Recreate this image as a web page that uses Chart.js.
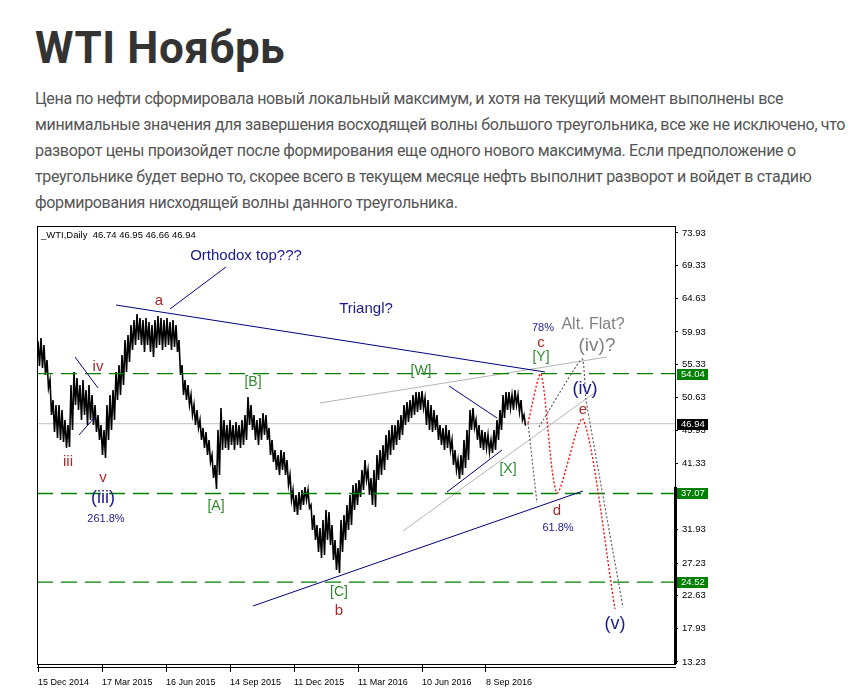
<!DOCTYPE html>
<html>
<head>
<meta charset="utf-8">
<script src="https://cdn.jsdelivr.net/npm/chart.js@4.4.0/dist/chart.umd.min.js"></script>
<style>
  body { margin: 0; background: #fff; width: 866px; height: 695px; overflow: hidden; position: relative; }
  h1 { position: absolute; left: 35px; top: 26px; margin: 0; font: 700 44px/44px Roboto, sans-serif; color: #333; letter-spacing: 0.6px; }
  .txt { position: absolute; left: 35px; top: 86px; font: 400 16px/26px Roboto, sans-serif; color: #555; white-space: nowrap; letter-spacing: -0.33px; }
  #wrap { position: absolute; left: 36px; top: 225px; width: 700px; height: 470px; }
</style>
</head>
<body>
<h1>WTI Ноябрь</h1>
<div class="txt">
  <div>Цена по нефти сформировала новый локальный максимум, и хотя на текущий момент выполнены все</div>
  <div>минимальные значения для завершения восходящей волны большого треугольника, все же не исключено, что</div>
  <div>разворот цены произойдет после формирования еще одного нового максимума. Если предположение о</div>
  <div>треугольнике будет верно то, скорее всего в текущем месяце нефть выполнит разворот и войдет в стадию</div>
  <div>формирования нисходящей волны данного треугольника.</div>
</div>
<div id="wrap"><canvas id="wti" width="700" height="470"></canvas></div>
<script>
// WTI daily, one sample every 3 trading days (high / low)
const sampleStep = 3;
const priceHigh = [
  58.65, 59.07, 58.08, 55.96, 53.13, 50.30, 49.59, 49.59, 48.88, 47.47,
  46.76, 52.42, 54.26, 53.41, 52.42, 53.13, 51.71, 52.42, 51.01, 49.59,
  48.18, 46.76, 46.05, 49.59, 51.01, 51.71, 54.26, 55.25, 56.67, 58.79,
  59.50, 60.91, 61.62, 62.47, 61.90, 61.62, 61.90, 61.34, 60.91, 61.62,
  62.19, 61.90, 61.62, 61.90, 61.34, 61.62, 60.91, 58.79, 55.25, 53.13,
  52.42, 51.01, 49.59, 48.88, 47.47, 46.34, 45.77, 44.64, 42.52, 41.10,
  46.05, 49.17, 47.47, 46.76, 47.47, 46.76, 47.19, 46.76, 47.47, 48.18,
  50.72, 49.59, 48.18, 47.47, 47.75, 48.46, 48.18, 46.34, 44.64, 43.22,
  42.52, 43.22, 42.94, 41.81, 39.69, 37.56, 36.86, 37.28, 37.56, 37.99,
  37.56, 35.44, 34.03, 32.61, 32.19, 33.32, 34.73, 34.45, 32.61, 30.49,
  29.36, 33.32, 34.03, 35.44, 36.86, 38.27, 38.56, 38.98, 40.39, 41.81,
  40.39, 39.26, 40.39, 42.52, 43.22, 43.93, 45.35, 46.05, 46.76, 46.76,
  47.47, 48.18, 49.59, 50.02, 50.30, 51.01, 51.43, 51.43, 51.57, 50.58,
  50.30, 49.59, 48.88, 48.18, 46.76, 46.34, 46.76, 46.05, 44.64, 43.22,
  41.81, 42.52, 44.64, 46.05, 48.88, 49.17, 47.47, 46.76, 46.05, 45.77,
  45.35, 44.64, 46.05, 47.47, 48.88, 51.01, 51.43, 51.43, 51.01, 51.71,
  51.01, 50.30, 48.18
];
const priceLow = [
  55.11, 54.83, 53.84, 52.00, 48.18, 45.77, 44.92, 44.64, 44.36, 43.51,
  43.65, 46.05, 49.59, 48.88, 47.47, 48.18, 46.76, 47.47, 46.76, 45.77,
  44.64, 42.52, 42.09, 44.64, 46.05, 47.47, 50.30, 51.01, 52.42, 54.26,
  55.68, 57.37, 58.08, 58.79, 58.08, 57.09, 58.08, 57.09, 56.38, 57.66,
  58.08, 57.37, 57.80, 58.08, 57.37, 57.80, 57.09, 53.84, 51.01, 50.30,
  49.59, 48.18, 46.76, 46.34, 44.64, 43.51, 42.52, 41.53, 39.26, 37.71,
  39.69, 43.22, 43.51, 43.22, 43.93, 43.22, 43.93, 43.51, 43.93, 44.64,
  46.76, 46.05, 44.64, 43.93, 44.64, 45.35, 44.64, 42.52, 41.53, 40.39,
  39.69, 40.39, 39.69, 38.27, 36.15, 34.45, 34.03, 34.73, 35.44, 36.15,
  35.02, 31.90, 30.49, 28.79, 27.94, 28.37, 30.49, 29.78, 27.66, 26.24,
  25.82, 28.79, 30.49, 31.90, 32.61, 34.73, 35.44, 36.57, 37.56, 38.98,
  36.86, 35.44, 35.16, 38.98, 39.69, 40.39, 41.81, 42.52, 43.22, 43.93,
  44.64, 45.35, 46.76, 47.19, 47.75, 48.18, 48.60, 48.88, 49.17, 46.76,
  46.05, 45.77, 46.05, 44.64, 43.93, 43.22, 43.51, 43.22, 41.10, 40.39,
  39.12, 39.69, 40.68, 41.81, 46.05, 46.34, 44.64, 43.51, 43.22, 43.51,
  42.94, 42.80, 43.22, 44.64, 46.05, 47.75, 48.88, 49.17, 48.88, 49.59,
  48.60, 47.47, 46.66
];

const yTicks = [73.93, 69.33, 64.63, 59.93, 55.33, 50.63, 45.93, 41.33, 36.63, 31.93, 27.23, 22.63, 17.93, 13.23];
const dateTickDays = [0, 64, 128, 192, 256, 320, 384, 448];
const dateTickLabels = ['15 Dec 2014', '17 Mar 2015', '16 Jun 2015', '14 Sep 2015', '11 Dec 2015', '11 Mar 2016', '10 Jun 2016', '8 Sep 2016'];
const headerText = '_WTI,Daily  46.74 46.95 46.66 46.94';

const levels = [54.04, 37.07, 24.52];
const lastPrice = 46.94;

// drawn lines, [trading day, price]
const navyLines = [
  [[78, 63.74], [507, 54.26]],   // triangle top
  [[132, 63.18], [188, 69.12]],  // pointer to "Orthodox top???"
  [[215, 21.15], [545, 37.42]],  // triangle bottom
  [[37, 56.38], [60, 52.00]],
  [[41, 45.35], [57, 47.89]],
  [[411, 52.28], [459, 47.75]],
  [[409, 37.28], [464, 43.22]]
];
const silverLines = [
  [[282, 49.88], [569, 56.38]],
  [[365, 31.76], [559, 51.57]]
];
const redPath = [[490, 47.05], [503, 53.98], [519, 37.14], [545, 47.61], [577, 20.73]];
const greyPathA = [[490, 47.05], [499, 35.72]];
const greyPathB = [[501, 46.48], [544, 56.10], [548, 50.30], [585, 20.97]];

// wave labels: text, trading day, price, kind
const waveLabels = [
  ['Orthodox top???', 208, 70.68, 'note'],
  ['Triangl?', 328, 63.18, 'note'],
  ['a', 121, 64.31, 'wave'],
  ['iv', 60, 54.97, 'wave'],
  ['iii', 30, 41.53, 'wave'],
  ['v', 65, 39.26, 'wave'],
  ['(iii)', 65, 36.43, 'big'],
  ['261.8%', 68, 33.46, 'pct'],
  ['[A]', 178, 35.30, 'corr'],
  ['[B]', 215, 52.85, 'corr'],
  ['[C]', 301, 23.13, 'corr'],
  ['b', 301, 20.44, 'wave'],
  ['[W]', 383, 54.40, 'corr'],
  ['[X]', 470, 40.54, 'corr'],
  ['78%', 505, 60.49, 'pct'],
  ['c', 503, 58.37, 'wave'],
  ['[Y]', 503, 56.38, 'corr'],
  ['Alt. Flat?', 555, 60.91, 'alt'],
  ['(iv)?', 559, 57.94, 'altBig'],
  ['(iv)', 547, 51.86, 'big'],
  ['e', 545, 48.88, 'wave'],
  ['d', 519, 34.59, 'wave'],
  ['61.8%', 520, 32.19, 'pct'],
  ['(v)', 577, 18.60, 'big']
];

const FONT = '"Liberation Sans", Arial, sans-serif';
const labelStyle = {
  note:   { color: '#1a1a8e', size: 15 },
  wave:   { color: '#a52a2a', size: 15 },
  big:    { color: '#1a1a8e', size: 18 },
  pct:    { color: '#1a1a8e', size: 11 },
  corr:   { color: '#2f8a2f', size: 14 },
  alt:    { color: '#808080', size: 16 },
  altBig: { color: '#808080', size: 19 }
};

function seg(points, color, extra) {
  return Object.assign({
    type: 'line',
    data: points.map(p => ({ x: p[0], y: p[1] })),
    borderColor: color, borderWidth: 1, pointRadius: 0, fill: false, tension: 0
  }, extra || {});
}

// each sample drawn as high -> low stroke, so the band looks like dense daily bars
const zigzag = [];
priceHigh.forEach((h, i) => {
  const d = i * sampleStep;
  zigzag.push([d, h], [d + 1.5, priceLow[i]]);
});

const datasets = [];
datasets.push(seg(zigzag, '#000', { borderWidth: 1.6, order: 5 }));
datasets.push(seg([[-1, lastPrice], [637, lastPrice]], '#c0c0c0', { order: 10 }));
levels.forEach(v => datasets.push(seg([[-1, v], [637, v]], '#008000', { borderDash: [16, 8], borderWidth: 1.3, order: 3 })));
silverLines.forEach(l => datasets.push(seg(l, '#b4b4b4', { order: 4 })));
navyLines.forEach(l => datasets.push(seg(l, '#000080', { order: 2 })));
datasets.push(seg(redPath, '#ff0000', { borderDash: [2, 2], borderWidth: 1.3, tension: 0.25, order: 1 }));
datasets.push(seg(greyPathA, '#606060', { borderDash: [2, 2], borderWidth: 1.2, order: 1 }));
datasets.push(seg(greyPathB, '#606060', { borderDash: [2, 2], borderWidth: 1.2, tension: 0.15, order: 1 }));

const overlay = {
  id: 'overlay',
  afterDatasetsDraw(chart) {
    const { ctx, chartArea: a, scales: { x, y } } = chart;
    ctx.save();
    ctx.textAlign = 'center';
    ctx.textBaseline = 'middle';
    waveLabels.forEach(([t, d, p, k]) => {
      const s = labelStyle[k];
      ctx.font = s.size + 'px ' + FONT;
      ctx.fillStyle = s.color;
      ctx.fillText(t, x.getPixelForValue(d), y.getPixelForValue(p));
    });
    ctx.textAlign = 'left';
    ctx.font = '9.5px ' + FONT;
    ctx.fillStyle = '#000';
    ctx.fillText(headerText, a.left + 4, a.top + 9);
    ctx.restore();
  },
  afterDraw(chart) {
    const { ctx, chartArea: a, scales: { y } } = chart;
    ctx.save();
    // frame
    ctx.strokeStyle = '#000';
    ctx.lineWidth = 1;
    ctx.strokeRect(a.left + 0.5, a.top + 0.5, a.right - a.left, a.bottom - a.top);
    ctx.beginPath();
    ctx.moveTo(a.left, a.bottom + 3.5);
    ctx.lineTo(a.right + 1, a.bottom + 3.5);
    ctx.stroke();
    ctx.fillStyle = '#000';
    const thickTop = y.getPixelForValue(38.0);
    ctx.fillRect(a.right - 1, thickTop, 3, a.bottom - thickTop);
    // price labels on the axis
    ctx.font = '9.5px ' + FONT;
    ctx.textAlign = 'left';
    ctx.textBaseline = 'middle';
    const tag = (v, bg) => {
      const py = Math.round(y.getPixelForValue(v));
      ctx.fillStyle = bg;
      ctx.fillRect(a.right + 2, py - 5, 31, 11);
      ctx.fillStyle = '#fff';
      ctx.fillText(v.toFixed(2), a.right + 6, py + 0.5);
    };
    levels.forEach(v => tag(v, '#008000'));
    tag(lastPrice, '#000');
    ctx.restore();
  }
};

new Chart(document.getElementById('wti'), {
  type: 'line',
  data: { datasets },
  options: {
    responsive: false,
    animation: false,
    layout: { padding: { left: 1, top: 1, right: 0, bottom: 0 } },
    plugins: { legend: { display: false }, tooltip: { enabled: false } },
    scales: {
      x: {
        type: 'linear', min: -1, max: 637, offset: false,
        border: { display: false },
        grid: { drawOnChartArea: false, drawTicks: true, tickLength: 8, tickColor: '#000' },
        ticks: {
          autoSkip: false, maxRotation: 0, align: 'start', padding: 5,
          color: '#000', font: { family: FONT, size: 9 },
          callback: v => dateTickLabels[dateTickDays.indexOf(v)]
        },
        afterBuildTicks: s => { s.ticks = dateTickDays.map(v => ({ value: v })); },
        afterFit: s => { s.height = 31; s.paddingLeft = 0; s.paddingRight = 0; }
      },
      y: {
        type: 'linear', position: 'right', min: 12.94, max: 74.92,
        border: { display: false },
        grid: { drawOnChartArea: false, drawTicks: true, tickLength: 3, tickColor: '#000' },
        ticks: {
          padding: 4, color: '#000', font: { family: FONT, size: 9.5 },
          callback: v => v.toFixed(2)
        },
        afterBuildTicks: s => { s.ticks = yTicks.map(v => ({ value: v })); },
        afterFit: s => { s.width = 61; s.paddingTop = 0; s.paddingBottom = 0; }
      }
    }
  },
  plugins: [overlay]
});
</script>
</body>
</html>
